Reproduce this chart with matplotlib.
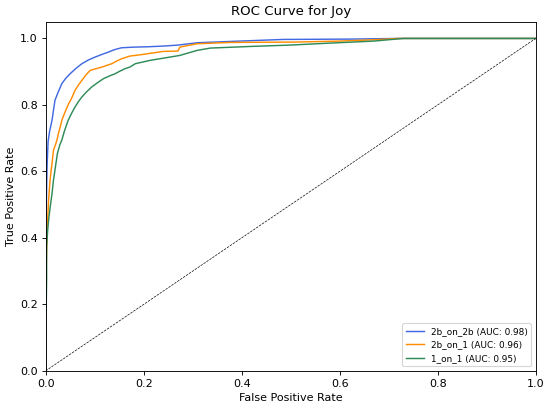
import matplotlib
matplotlib.use("Agg")
import matplotlib.pyplot as plt

# ROC points (fpr, tpr)
fpr_2b2b = [0.0, 0.0, 0.001, 0.002, 0.003, 0.005, 0.008, 0.013, 0.019, 0.026, 0.033, 0.041,
            0.050, 0.062, 0.074, 0.087, 0.101, 0.115, 0.128, 0.140, 0.155, 0.183, 0.210,
            0.240, 0.270, 0.309, 0.377, 0.485, 0.620, 0.720, 1.0]
tpr_2b2b = [0.0, 0.30, 0.45, 0.55, 0.62, 0.69, 0.72, 0.754, 0.814, 0.840, 0.864, 0.880,
            0.894, 0.910, 0.924, 0.935, 0.944, 0.952, 0.959, 0.966, 0.972, 0.974, 0.975,
            0.977, 0.980, 0.987, 0.991, 0.997, 0.998, 1.0, 1.0]

fpr_2b1 = [0.0, 0.0, 0.001, 0.003, 0.006, 0.009, 0.011, 0.013, 0.016, 0.020, 0.023, 0.026,
           0.030, 0.033, 0.040, 0.047, 0.053, 0.060, 0.067, 0.074, 0.082, 0.091, 0.103,
           0.115, 0.125, 0.135, 0.145, 0.155, 0.172, 0.199, 0.240, 0.270, 0.274, 0.309,
           0.377, 0.506, 0.600, 0.669, 0.720, 1.0]
tpr_2b1 = [0.0, 0.15, 0.30, 0.423, 0.513, 0.574, 0.600, 0.624, 0.664, 0.680, 0.694, 0.714,
           0.735, 0.754, 0.780, 0.804, 0.820, 0.844, 0.860, 0.874, 0.890, 0.904, 0.909,
           0.914, 0.919, 0.924, 0.932, 0.939, 0.947, 0.952, 0.961, 0.962, 0.974, 0.984,
           0.988, 0.989, 0.992, 0.996, 1.0, 1.0]

fpr_11 = [0.0, 0.0, 0.001, 0.002, 0.002, 0.004, 0.006, 0.009, 0.013, 0.016, 0.019, 0.024,
          0.029, 0.033, 0.038, 0.046, 0.053, 0.060, 0.067, 0.074, 0.084, 0.094, 0.106,
          0.118, 0.130, 0.142, 0.152, 0.162, 0.172, 0.183, 0.213, 0.254, 0.274, 0.309,
          0.336, 0.420, 0.499, 0.567, 0.669, 0.730, 1.0]
tpr_11 = [0.0, 0.08, 0.18, 0.28, 0.373, 0.420, 0.453, 0.490, 0.533, 0.574, 0.604, 0.654,
          0.680, 0.694, 0.720, 0.754, 0.775, 0.794, 0.810, 0.824, 0.840, 0.854, 0.867,
          0.879, 0.887, 0.894, 0.902, 0.909, 0.914, 0.924, 0.934, 0.944, 0.949, 0.964,
          0.971, 0.976, 0.980, 0.985, 0.992, 1.0, 1.0]

labels = ["2b_on_2b (AUC: 0.98)", "2b_on_1 (AUC: 0.96)", "1_on_1 (AUC: 0.95)"]
colors = ["royalblue", "darkorange", "seagreen"]

fig, ax = plt.subplots(figsize=(6.875, 5.05), dpi=80)
fig.subplots_adjust(left=0.083, right=0.974, bottom=0.082, top=0.946)

for f, t, lab, c in zip([fpr_2b2b, fpr_2b1, fpr_11], [tpr_2b2b, tpr_2b1, tpr_11], labels, colors):
    ax.plot(f, t, color=c, label=lab, lw=1.3)

ax.plot([0, 1], [0, 1], color='k', linestyle='--', lw=0.6)
ax.set_xlim(0, 1)
ax.set_ylim(0, 1.05)
ax.set_title('ROC Curve for Joy')
ax.set_xlabel('False Positive Rate')
ax.set_ylabel('True Positive Rate')
ax.legend(loc='lower right', fontsize=8)

fig.savefig("out.png", dpi=80)
